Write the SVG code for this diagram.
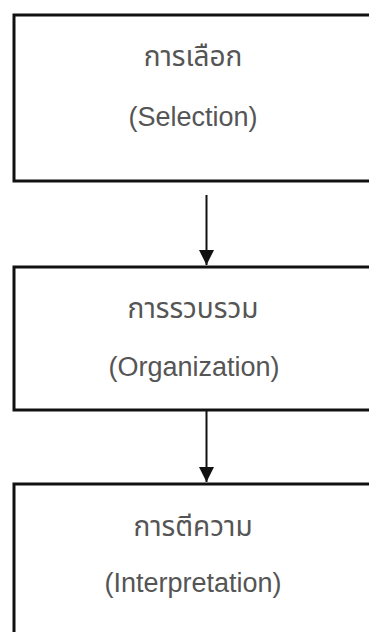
<svg xmlns="http://www.w3.org/2000/svg" width="369" height="632" viewBox="0 0 369 632">
<defs>
<marker id="ah" viewBox="0 0 10 10" refX="10" refY="5" markerWidth="16" markerHeight="15" markerUnits="userSpaceOnUse" orient="auto">
<path d="M0,0 L10,5 L0,10 Z" fill="#111"/>
</marker>
<style>
.box{fill:#fff;stroke:#111;stroke-width:3}
.th{font-family:"Noto Sans Thai","Noto Sans","DejaVu Sans","Liberation Sans",sans-serif;font-size:28px;fill:#555;text-anchor:middle}
.en{font-family:"Liberation Sans",Arial,sans-serif;font-size:27px;fill:#555;text-anchor:middle}
.con{stroke:#111;stroke-width:2;fill:none}
</style>
</defs>
<rect width="369" height="632" fill="#fff"/>
<g id="selection">
<rect class="box" x="14" y="15" width="360" height="166"/>
<text class="th" x="193" y="66">การเลือก</text>
<text class="en" x="193" y="126">(Selection)</text>
</g>
<g id="organization">
<rect class="box" x="14" y="267" width="360" height="143"/>
<text class="th" x="193" y="318">การรวบรวม</text>
<text class="en" x="194" y="376">(Organization)</text>
</g>
<g id="interpretation">
<rect class="box" x="14" y="484" width="360" height="160"/>
<text class="th" x="193" y="536">การตีความ</text>
<text class="en" x="193" y="592">(Interpretation)</text>
</g>
<g id="connectors">
<line class="con" x1="206.5" y1="195" x2="206.5" y2="265" marker-end="url(#ah)"/>
<line class="con" x1="206.5" y1="411" x2="206.5" y2="482" marker-end="url(#ah)"/>
</g>
</svg>
